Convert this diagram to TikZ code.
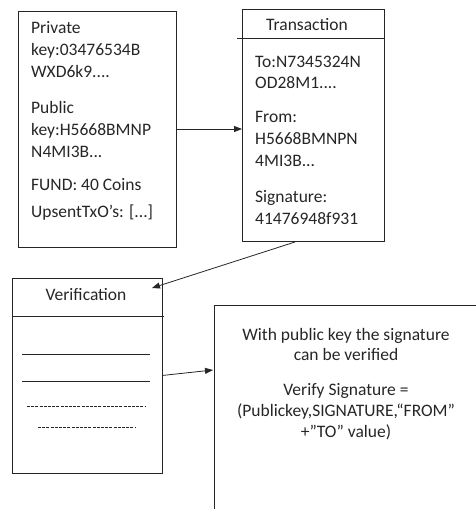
\documentclass[tikz,border=0pt]{standalone}
\usepackage{fontspec}
\setmainfont{Carlito}
\usetikzlibrary{arrows.meta}
\begin{document}
\begin{tikzpicture}[x=1pt,y=-1pt,
  box/.style={draw=black!85, line width=0.8pt, inner sep=0pt, outer sep=0pt, anchor=north west},
  txt/.style={anchor=base west, inner sep=0pt, font=\fontsize{17.5}{22}\selectfont, text=black!85},
  ctxt/.style={txt, anchor=base},
  rule/.style={draw=black!85, line width=0.8pt},
  dashrule/.style={draw=black!85, line width=0.9pt, dash pattern=on 3pt off 1.2pt},
  link/.style={draw=black!85, line width=0.8pt, -{Triangle[length=8pt,width=6pt]}}]
\useasboundingbox (0,0) rectangle (475,509);

% wallet
\node[box, minimum width=158pt, minimum height=236pt] (wallet) at (18,11) {};
\node[txt] (w1) at (31,33)  {Private};
\node[txt] (w2) at (31,55)  {key:03476534B};
\node[txt] (w3) at (31,77)  {WXD6k9....};
\node[txt] (w4) at (31,113) {Public};
\node[txt] (w5) at (31,135) {key:H5668BMNP};
\node[txt] (w6) at (31,157) {N4MI3B...};
\node[txt] (w7) at (31,190) {FUND: 40 Coins};
\node[txt] (w8) at (31,217) {UpsentTxO’s: [...]};

% transaction
\node[box, minimum width=142pt, minimum height=232pt] (tx) at (242,9) {};
\draw[rule] (237,38) -- (384,38);
\node[ctxt] (txtitle) at (307,30) {Transaction};
\node[txt] (t1) at (255,67)  {To:N7345324N};
\node[txt] (t2) at (255,88)  {OD28M1....};
\node[txt] (t3) at (255,122) {From:};
\node[txt] (t4) at (255,144) {H5668BMNPN};
\node[txt] (t5) at (255,166) {4MI3B...};
\node[txt] (t6) at (255,202) {Signature:};
\node[txt] (t7) at (255,224) {41476948f931};

% verification
\node[box, minimum width=150pt, minimum height=195pt] (verif) at (12,278) {};
\draw[rule] (12,316) -- (164,316);
\node[ctxt] (vtitle) at (86,300) {Verification};
\draw[rule] (22,354) -- (150,354);
\draw[rule] (22,381) -- (150,381);
\draw[dashrule] (27,406) -- (146,406);
\draw[dashrule] (38,427) -- (135,427);

% verification note (open at the bottom and right)
\draw[rule] (214,511) -- (214,305) -- (477,305);
\node[ctxt] (n1) at (346,340) {With public key the signature};
\node[ctxt] (n2) at (346,360) {can be verified};
\node[ctxt] (n3) at (346,395) {Verify Signature =};
\node[ctxt] (n4) at (346,416) {(Publickey,SIGNATURE,“FROM”};
\node[ctxt] (n5) at (346,437) {+”TO” value)};

% connectors
\coordinate (txout) at (295,242);
\coordinate (veriftip) at (152,288);
\coordinate (notetip) at (213,370);
\draw[link] (wallet.east) -- (wallet.east -| tx.west);
\draw[link] (txout) -- (veriftip);
\draw[link] (verif.east) -- (notetip);
\end{tikzpicture}
\end{document}
